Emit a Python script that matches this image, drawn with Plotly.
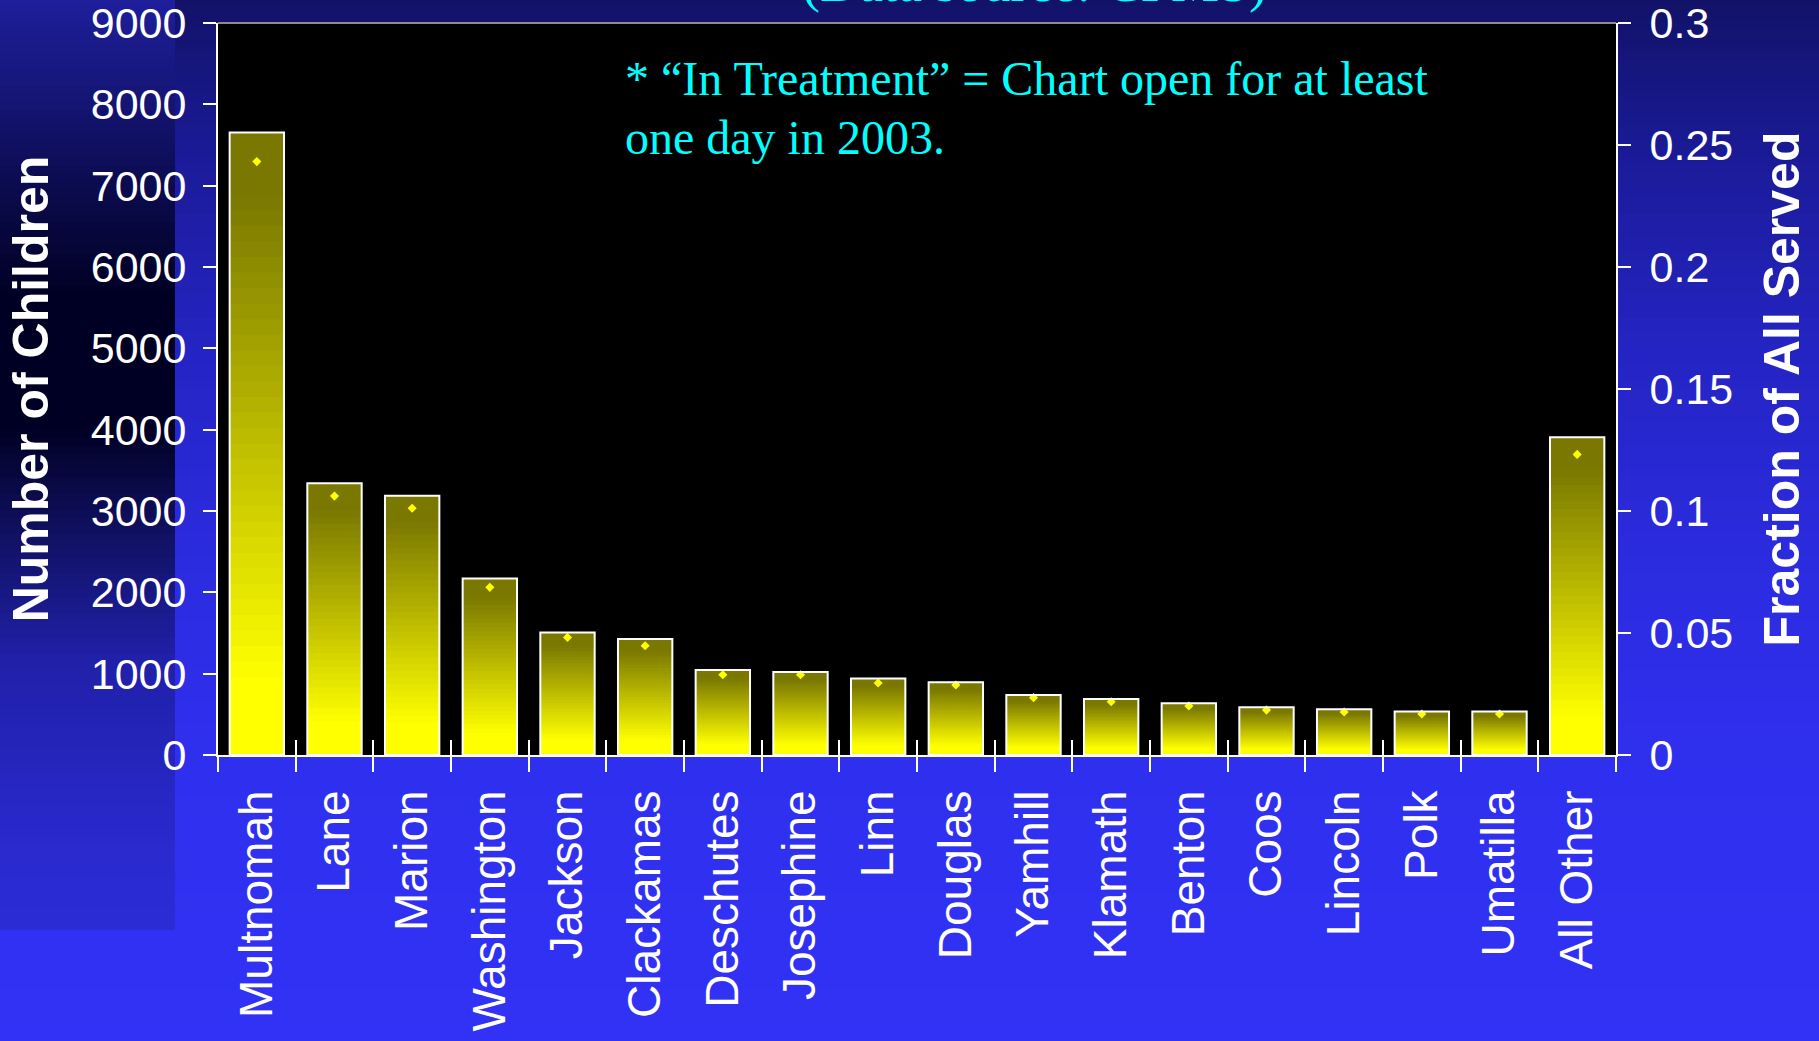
import plotly.graph_objects as go
import numpy as np

# ---- data ----
counties = ["Multnomah", "Lane", "Marion", "Washington", "Jackson", "Clackamas",
            "Deschutes", "Josephine", "Linn", "Douglas", "Yamhill", "Klamath",
            "Benton", "Coos", "Lincoln", "Polk", "Umatilla", "All Other"]
children = [7655, 3342, 3188, 2170, 1505, 1427, 1045, 1020, 940, 895,
            738, 690, 636, 587, 562, 534, 534, 3906]
fraction = [0.2432, 0.1061, 0.1011, 0.0687, 0.0482, 0.0448, 0.0329, 0.0329, 0.0295, 0.0287,
            0.0235, 0.0218, 0.0201, 0.0184, 0.0176, 0.0168, 0.0168, 0.1232]

W, H = 1819, 1041
ML, MR, MT, MB = 218, 203, 23, 286
PW, PH = W - ML - MR, H - MT - MB


def px_x(p):
    return (p - ML) / PW


def px_y(p):
    return 1 - (p - MT) / PH


def rgb(c):
    return "rgb(%d,%d,%d)" % tuple(int(round(v)) for v in c)


def grad(stops, p):
    ys = [s[0] for s in stops]
    return [np.interp(p, ys, [s[1][i] for s in stops]) for i in range(3)]


# background: vertical blue gradient + darker strip on the left
main_stops = [(0, (18, 18, 104)), (150, (26, 26, 150)), (350, (36, 36, 195)),
              (550, (43, 43, 222)), (750, (47, 47, 238)), (1041, (50, 50, 246))]
strip_stops = [(0, (30, 30, 156)), (90, (22, 22, 122)), (200, (10, 10, 74)),
               (300, (0, 0, 36)), (430, (0, 0, 36)), (530, (16, 16, 96)),
               (660, (32, 32, 168)), (860, (42, 42, 208)), (930, (44, 44, 214))]

shapes = []
step = 8
for p in range(0, H, step):
    shapes.append(dict(type="rect", xref="paper", yref="paper", layer="below",
                       x0=px_x(-2), x1=px_x(W + 2), y0=px_y(p + step + 1), y1=px_y(p - 2),
                       fillcolor=rgb(grad(main_stops, p + step / 2)), line=dict(width=0)))
for p in range(0, 930, step):
    shapes.append(dict(type="rect", xref="paper", yref="paper", layer="below",
                       x0=px_x(-2), x1=px_x(175), y0=px_y(min(p + step + 1, 930)), y1=px_y(p - 2),
                       fillcolor=rgb(grad(strip_stops, p + step / 2)), line=dict(width=0)))
# black plot area
shapes.append(dict(type="rect", xref="x domain", yref="y domain", layer="below",
                   x0=0, x1=1, y0=0, y1=1, fillcolor="black", line=dict(width=0)))
# grey top border
shapes.append(dict(type="line", xref="paper", yref="paper", x0=0, x1=1, y0=1, y1=1,
                   line=dict(color="#8c8c8c", width=2)))

fig = go.Figure()

# gradient bars: overlaid bars of decreasing height, olive on top -> yellow at the base
N = 40
children_arr = np.array(children, dtype=float)
for k in range(N):
    t = (N - k - 0.5) / N
    s = np.clip((t - 0.12) / 0.78, 0, 1)
    col = (255 - s * 133, 255 - s * 135, 0)
    fig.add_trace(go.Bar(x=counties, y=children_arr * (N - k) / N,
                         marker=dict(color=rgb(col), line=dict(width=0)),
                         opacity=1, showlegend=False, hoverinfo="skip"))

# white outlines
fig.add_trace(go.Bar(x=counties, y=children, xaxis="x2", yaxis="y",
                     marker=dict(color="rgba(0,0,0,0)", line=dict(color="white", width=2)),
                     showlegend=False, name="Number of Children"))

# fraction markers
fig.add_trace(go.Scatter(x=counties, y=fraction, yaxis="y2", mode="markers",
                         marker=dict(symbol="diamond", size=7, color="#ffff00"),
                         showlegend=False, name="Fraction of All Served"))

tick_font = dict(family="Liberation Sans, Arial, sans-serif", size=43, color="white")
title_font = dict(family="Liberation Sans, Arial, sans-serif", size=50, color="white")
serif = "Liberation Serif, Times New Roman, serif"

fig.update_layout(
    width=W, height=H,
    margin=dict(l=ML, r=MR, t=MT, b=MB, autoexpand=False),
    paper_bgcolor="#3030f0", plot_bgcolor="black",
    barmode="overlay", bargap=0.3,
    shapes=shapes,
    xaxis=dict(type="category", range=[-0.5, 17.5], tickson="boundaries", automargin=False,
               ticks="outside", ticklen=15, tickwidth=2, tickcolor="white",
               showline=True, linecolor="white", linewidth=2, showgrid=False,
               tickangle=-90, tickfont=dict(family=tick_font["family"], size=46, color="white"),
               ticklabelstandoff=15),
    xaxis2=dict(type="category", overlaying="x", anchor="y", side="bottom", automargin=False,
                range=[-0.5, 17.5], tickson="boundaries", ticks="inside", ticklen=15,
                tickwidth=2, tickcolor="white", showticklabels=False, showline=False,
                showgrid=False),
    yaxis=dict(range=[0, 9000], dtick=1000, ticks="outside", ticklen=13, tickwidth=2,
               tickcolor="white", showline=True, linecolor="white", linewidth=2,
               showgrid=False, zeroline=False, tickfont=tick_font, ticklabelstandoff=8,
               ticklabeloverflow="allow", automargin=False,
               title=dict(text="<b>Number of Children</b>", font=title_font, standoff=26)),
    yaxis2=dict(overlaying="y", side="right", anchor="x", range=[0, 0.3], dtick=0.05,
                ticks="outside", ticklen=13, tickwidth=2, tickcolor="white",
                showline=True, linecolor="white", linewidth=2, showgrid=False,
                zeroline=False, tickfont=tick_font, ticklabelstandoff=10,
                ticklabeloverflow="allow", automargin=False,
                title=dict(text="<b>Fraction of All Served</b>", font=title_font, standoff=32)),
    yaxis3=dict(overlaying="y", side="left", anchor="x", range=[0, 9000], dtick=1000,
                ticks="inside", ticklen=13, tickwidth=2, tickcolor="white", automargin=False,
                showticklabels=False, showline=False, showgrid=False, zeroline=False),
    yaxis4=dict(overlaying="y", side="right", anchor="x", range=[0, 0.3], dtick=0.05,
                ticks="inside", ticklen=13, tickwidth=2, tickcolor="white", automargin=False,
                showticklabels=False, showline=False, showgrid=False, zeroline=False),
    annotations=[
        dict(text="(Data source: CPMS)", xref="paper", yref="paper",
             x=px_x(1034), y=px_y(14.5), xanchor="center", yanchor="bottom",
             showarrow=False, font=dict(family=serif, size=54, color="#00ffff")),
        dict(text="* \u201cIn Treatment\u201d = Chart open for at least", xref="paper", yref="paper",
             x=px_x(623), y=px_y(79), xanchor="left", yanchor="middle",
             showarrow=False, font=dict(family=serif, size=48, color="#00ffff")),
        dict(text="one day in 2003.", xref="paper", yref="paper",
             x=px_x(623), y=px_y(137), xanchor="left", yanchor="middle",
             showarrow=False, font=dict(family=serif, size=48, color="#00ffff")),
    ],
)

fig.write_html("out.html", config={"displayModeBar": False},
               post_script="document.body.style.margin='0';")
